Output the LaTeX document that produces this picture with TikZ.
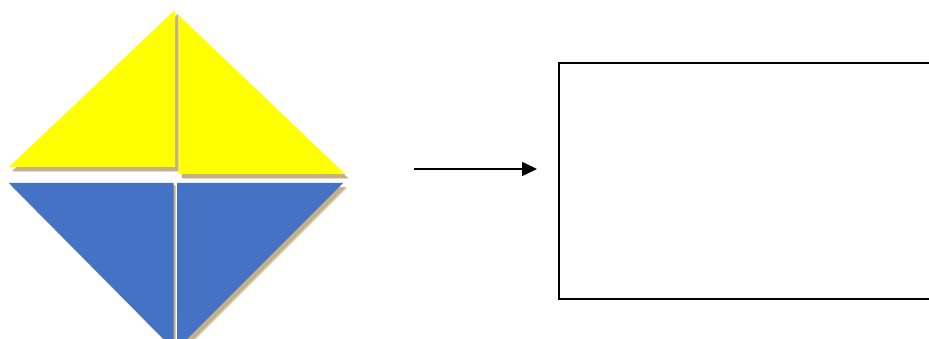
\documentclass[tikz,border=0pt]{standalone}
\usetikzlibrary{arrows.meta}
\definecolor{sunyellow}{RGB}{255,255,0}
\definecolor{steelblue}{RGB}{68,114,196}
\definecolor{tanshade}{RGB}{190,170,128}
\tikzset{
  shade1/.style={fill=tanshade,opacity=0.45},
  shade2/.style={fill=tanshade,opacity=0.85},
  yellowpiece/.style={fill=sunyellow},
  bluepiece/.style={fill=steelblue},
  outlinebox/.style={draw=black,line width=2pt},
  linkarrow/.style={line width=1.6pt,-{Triangle[length=15pt,width=14pt]}}
}
\begin{document}
\begin{tikzpicture}[x=1pt,y=-1pt]
\useasboundingbox (0,0) rectangle (929,339);
\begin{scope}
\clip (0,0) rectangle (929,339);
% shadows
\foreach \dx/\dy/\st in {4/5/shade1,3/4/shade2}{
  \fill[\st,shift={(\dx,\dy)}] (9,167) -- (175,10) -- (175,167) -- cycle;
  \fill[\st,shift={(\dx,\dy)}] (178.5,15) -- (345,174) -- (178.5,174) -- cycle;
  \fill[\st,shift={(\dx*0.6,\dy*0.6)}] (9,183) -- (173.5,183) -- (173.5,349) -- cycle;
  \fill[\st,shift={(\dx,\dy)}] (177,183) -- (343,183) -- (177,349) -- cycle;
}
% pieces
\fill[yellowpiece] (9,167) -- (175,10) -- (175,167) -- cycle;
\fill[yellowpiece] (178.5,15) -- (345,174) -- (178.5,174) -- cycle;
\fill[bluepiece] (9,183) -- (173.5,183) -- (173.5,349) -- cycle;
\fill[bluepiece] (177,183) -- (343,183) -- (177,349) -- cycle;
% box
\node[outlinebox,anchor=north west,minimum width=420pt,minimum height=236pt,inner sep=0pt] (box) at (558,62) {};
\end{scope}
% arrow
\coordinate (arrowstart) at (414,169);
\coordinate (arrowend) at (537,169);
\draw[linkarrow] (arrowstart) -- (arrowend);
\end{tikzpicture}
\end{document}
